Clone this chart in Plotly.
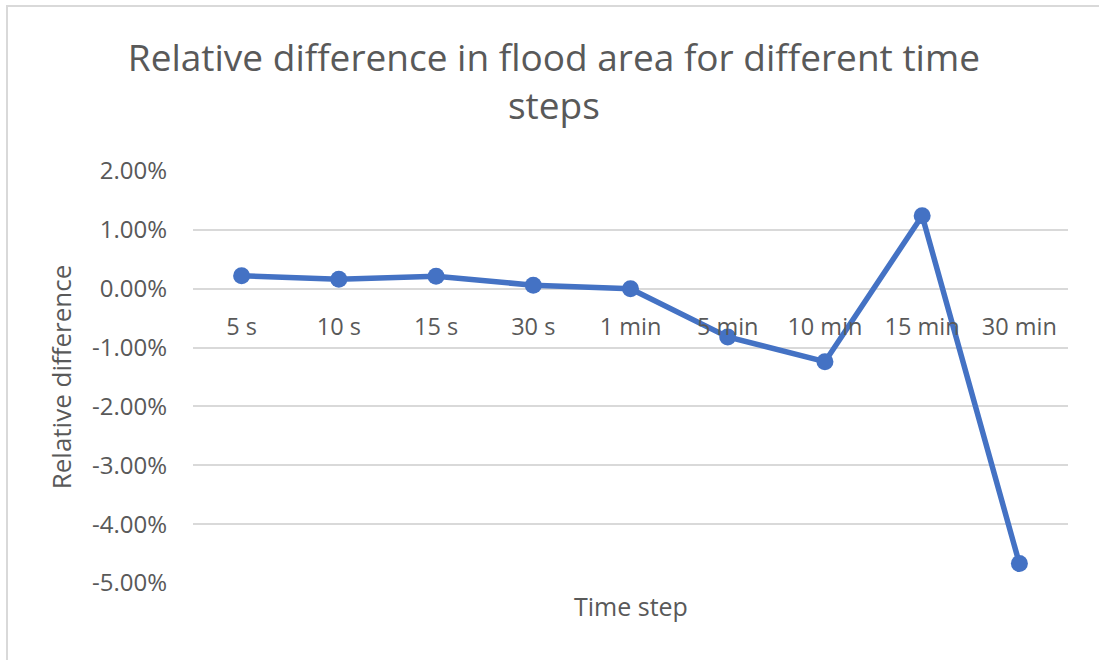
import plotly.graph_objects as go

categories = ["5 s", "10 s", "15 s", "30 s", "1 min", "5 min", "10 min", "15 min", "30 min"]
rel_diff = [0.0022, 0.0016, 0.0021, 0.0006, 0.0000, -0.0082, -0.0124, 0.0124, -0.0467]
y_ticks = [0.02, 0.01, 0.0, -0.01, -0.02, -0.03, -0.04, -0.05]
y_tick_text = [f"{v * 100:.2f}%" for v in y_ticks]

FONT = "Open Sans"
GREY = "#595959"
GRID = "#d9d9d9"
BLUE = "#4472c4"

y_min, y_max = -0.05, 0.02

fig = go.Figure()
fig.add_trace(go.Scatter(
    x=categories, y=rel_diff, mode="lines+markers",
    line=dict(color=BLUE, width=5.5),
    marker=dict(color=BLUE, size=17),
    showlegend=False,
))

fig.update_layout(
    width=1099, height=660,
    margin=dict(l=193, r=31, t=171, b=77, autoexpand=False),
    paper_bgcolor="white", plot_bgcolor="white",
    font=dict(family=FONT, color=GREY),
    title=dict(
        text="Relative difference in flood area for different time<br>steps",
        x=0.504, xanchor="center", y=1 - 71 / 660, yanchor="top",
        font=dict(family=FONT, size=37, color=GREY),
    ),
    xaxis=dict(
        type="category", anchor="free",
        range=[-0.5, len(categories) - 0.5],
        position=(0 - y_min) / (y_max - y_min),
        showgrid=False, showline=False, zeroline=False, ticks="",
        tickfont=dict(family=FONT, size=23.5, color=GREY),
        ticklabelstandoff=22,
    ),
    yaxis=dict(
        range=[y_min, y_max], tickvals=y_ticks, ticktext=y_tick_text,
        showgrid=True, gridcolor=GRID, gridwidth=1.5,
        zeroline=True, zerolinecolor=GRID, zerolinewidth=1.5,
        showline=False, ticks="",
        tickfont=dict(family=FONT, size=24, color=GREY),
        ticklabelstandoff=25,
        title=dict(text="Relative difference", font=dict(family=FONT, size=26, color=GREY), standoff=12),
    ),
    annotations=[dict(
        text="Time step", xref="paper", yref="paper", x=0.5, y=0,
        xanchor="center", yanchor="top", yshift=-4, showarrow=False,
        font=dict(family=FONT, size=25, color=GREY),
    )],
    shapes=[dict(
        type="rect", xref="paper", yref="paper",
        x0=(7 - 193) / 875, x1=(1200 - 193) / 875,
        y0=(583 - 700) / 412, y1=(583 - 6) / 412,
        line=dict(color=GRID, width=2), fillcolor="rgba(0,0,0,0)", layer="below",
    )],
)

fig.write_html("out.html", config={"displayModeBar": False},
               post_script="document.body.style.margin='0';")
